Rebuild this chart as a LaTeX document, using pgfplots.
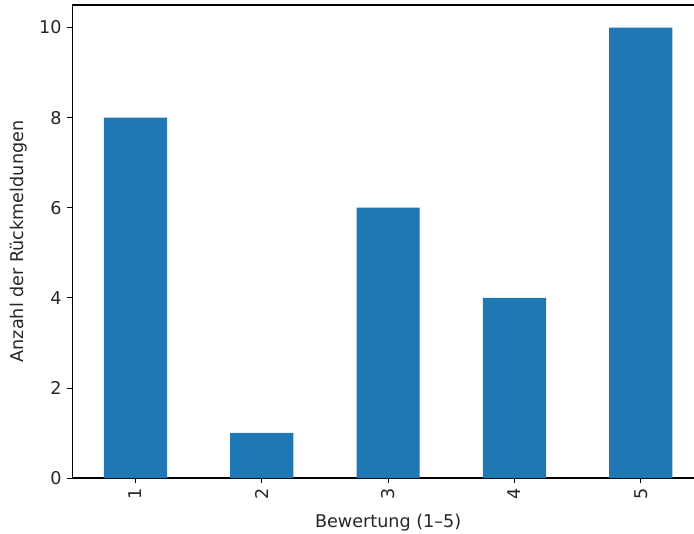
\documentclass[border=0pt]{standalone}
\usepackage{pgfplots}
\pgfplotsset{compat=1.18}
\usepackage{fontspec}
\setmainfont{DejaVu Sans}
\usetikzlibrary{calc}
\definecolor{mplblue}{HTML}{1F77B4}
\begin{document}
\begin{tikzpicture}
\begin{axis}[
    scale only axis,
    width=473.8pt, height=354.75pt,
    xmin=-0.5, xmax=4.5,
    ymin=0, ymax=10.5,
    axis line style={line width=0.83pt},
    tick style={line width=0.6pt, black},
    tick align=outside,
    major tick length=3.65pt,
    xtick={0,1,2,3,4},
    xticklabels={1,2,3,4,5},
    ytick={0,2,4,6,8,10},
    xtick pos=bottom, ytick pos=left,
    x tick label style={rotate=90, anchor=east},
    xticklabel style={inner sep=4.2pt},
    yticklabel style={inner sep=4.2pt},
    tick label style={font=\fontsize{13.2}{15}\selectfont, text=black!85},
    label style={font=\fontsize{13.2}{15}\selectfont, text=black!85},
    /pgf/number format/assume math mode=true,
    xlabel={Bewertung (1–5)},
    ylabel={Anzahl der Rückmeldungen},
    xlabel style={yshift=-3pt},
    ylabel style={yshift=1pt},
]
\addplot[ybar, bar width=0.5, fill=mplblue, draw=none] coordinates {
    (0,8) (1,1) (2,6) (3,4) (4,10)
};
\end{axis}
\pgfresetboundingbox
\useasboundingbox ($(current axis.south west)+(-54.2pt,-41.25pt)$) rectangle ($(current axis.north east)+(-7.5pt,3.75pt)$);
\end{tikzpicture}
\end{document}
